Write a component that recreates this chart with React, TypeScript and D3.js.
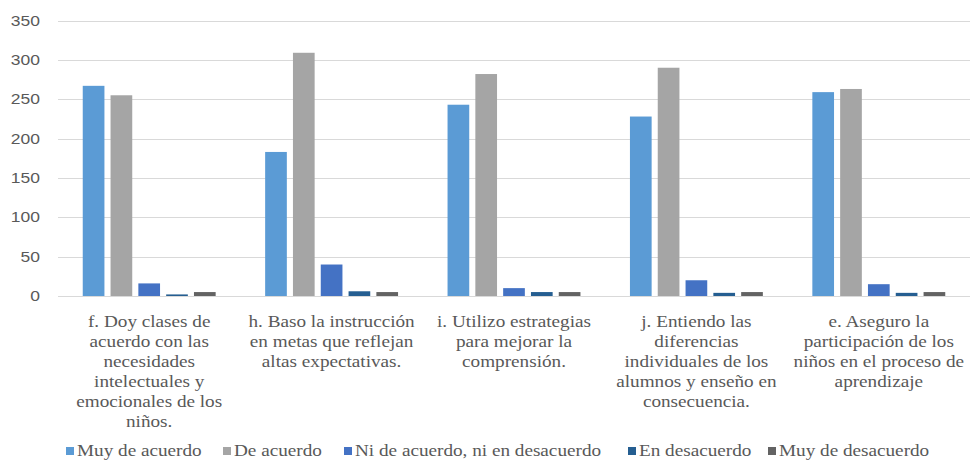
import React from "react";
import * as d3 from "d3";

// Survey answers per teaching statement
const categories: string[][] = [
  ["f. Doy clases de", "acuerdo con las", "necesidades", "intelectuales y", "emocionales de los", "niños."],
  ["h. Baso la instrucción", "en metas que reflejan", "altas expectativas."],
  ["i. Utilizo estrategias", "para mejorar la", "comprensión."],
  ["j. Entiendo las", "diferencias", "individuales de los", "alumnos y enseño en", "consecuencia."],
  ["e. Aseguro la", "participación de los", "niños en el proceso de", "aprendizaje"],
];

const seriesNames = [
  "Muy de acuerdo",
  "De acuerdo",
  "Ni de acuerdo, ni en desacuerdo",
  "En desacuerdo",
  "Muy de desacuerdo",
];

const muyDeAcuerdo = [267, 183, 243, 228, 259];
const deAcuerdo = [255, 309, 282, 290, 263];
const niNi = [16, 40, 10, 20, 15];
const enDesacuerdo = [2, 6, 5, 4, 4];
const muyDesacuerdo = [5, 5, 5, 5, 5];

const seriesValues = [muyDeAcuerdo, deAcuerdo, niNi, enDesacuerdo, muyDesacuerdo];
const seriesColors = ["#5B9BD5", "#A5A5A5", "#4472C4", "#255E91", "#636363"];

const yTicks = [0, 50, 100, 150, 200, 250, 300, 350];

const W = 970;
const H = 464;
const plotLeft = 58;
const plotRight = 970;
const plotTop = 20.5;
const plotBottom = 296;
const textColor = "#595959";
const stretch = 1.2;

export default function App() {
  const x0 = d3
    .scaleBand<number>()
    .domain(d3.range(categories.length))
    .range([plotLeft, plotRight])
    .paddingInner(0)
    .paddingOuter(0);
  const x1 = d3
    .scaleBand<number>()
    .domain(d3.range(seriesNames.length))
    .range([0, x0.bandwidth()])
    .paddingInner(0.22)
    .paddingOuter(0.89);
  const y = d3.scaleLinear().domain([0, 350]).range([plotBottom, plotTop]);

  const legendX = [66, 223, 344, 628, 768];

  return (
    <svg
      width={W}
      height={H}
      style={{ position: "absolute", left: 0, top: 0, display: "block", background: "#fff" }}
    >
      <rect width={W} height={H} fill="#fff" />
      {/* gridlines and y labels */}
      {yTicks.map((t) => (
        <g key={t}>
          <line
            x1={plotLeft}
            x2={plotRight}
            y1={Math.round(y(t)) + 0.5}
            y2={Math.round(y(t)) + 0.5}
            stroke="#D9D9D9"
            strokeWidth={1}
          />
          <text
            transform={`translate(40,${y(t) + 5}) scale(1.25,1)`}
            textAnchor="end"
            fontFamily="'Liberation Sans', Arial, sans-serif"
            fontSize={14}
            fill={textColor}
          >
            {t}
          </text>
        </g>
      ))}
      {/* bars */}
      {seriesValues.map((vals, si) =>
        vals.map((v, ci) => (
          <rect
            key={`${si}-${ci}`}
            x={(x0(ci) as number) + (x1(si) as number)}
            y={y(v)}
            width={x1.bandwidth()}
            height={plotBottom - y(v)}
            fill={seriesColors[si]}
          />
        ))
      )}
      {/* category labels */}
      {categories.map((lines, ci) => {
        const cx = (x0(ci) as number) + x0.bandwidth() / 2;
        return lines.map((ln, li) => (
          <text
            key={`${ci}-${li}`}
            transform={`translate(${cx},${326.5 + li * 20}) scale(${stretch},1)`}
            textAnchor="middle"
            fontFamily="'Liberation Serif', 'Times New Roman', serif"
            fontSize={16}
            fill={textColor}
          >
            {ln}
          </text>
        ));
      })}
      {/* legend */}
      {seriesNames.map((name, i) => (
        <g key={name}>
          <rect x={legendX[i]} y={447} width={8} height={8} fill={seriesColors[i]} />
          <text
            transform={`translate(${legendX[i] + 11},456) scale(${stretch},1)`}
            fontFamily="'Liberation Serif', 'Times New Roman', serif"
            fontSize={16}
            fill={textColor}
          >
            {name}
          </text>
        </g>
      ))}
    </svg>
  );
}
